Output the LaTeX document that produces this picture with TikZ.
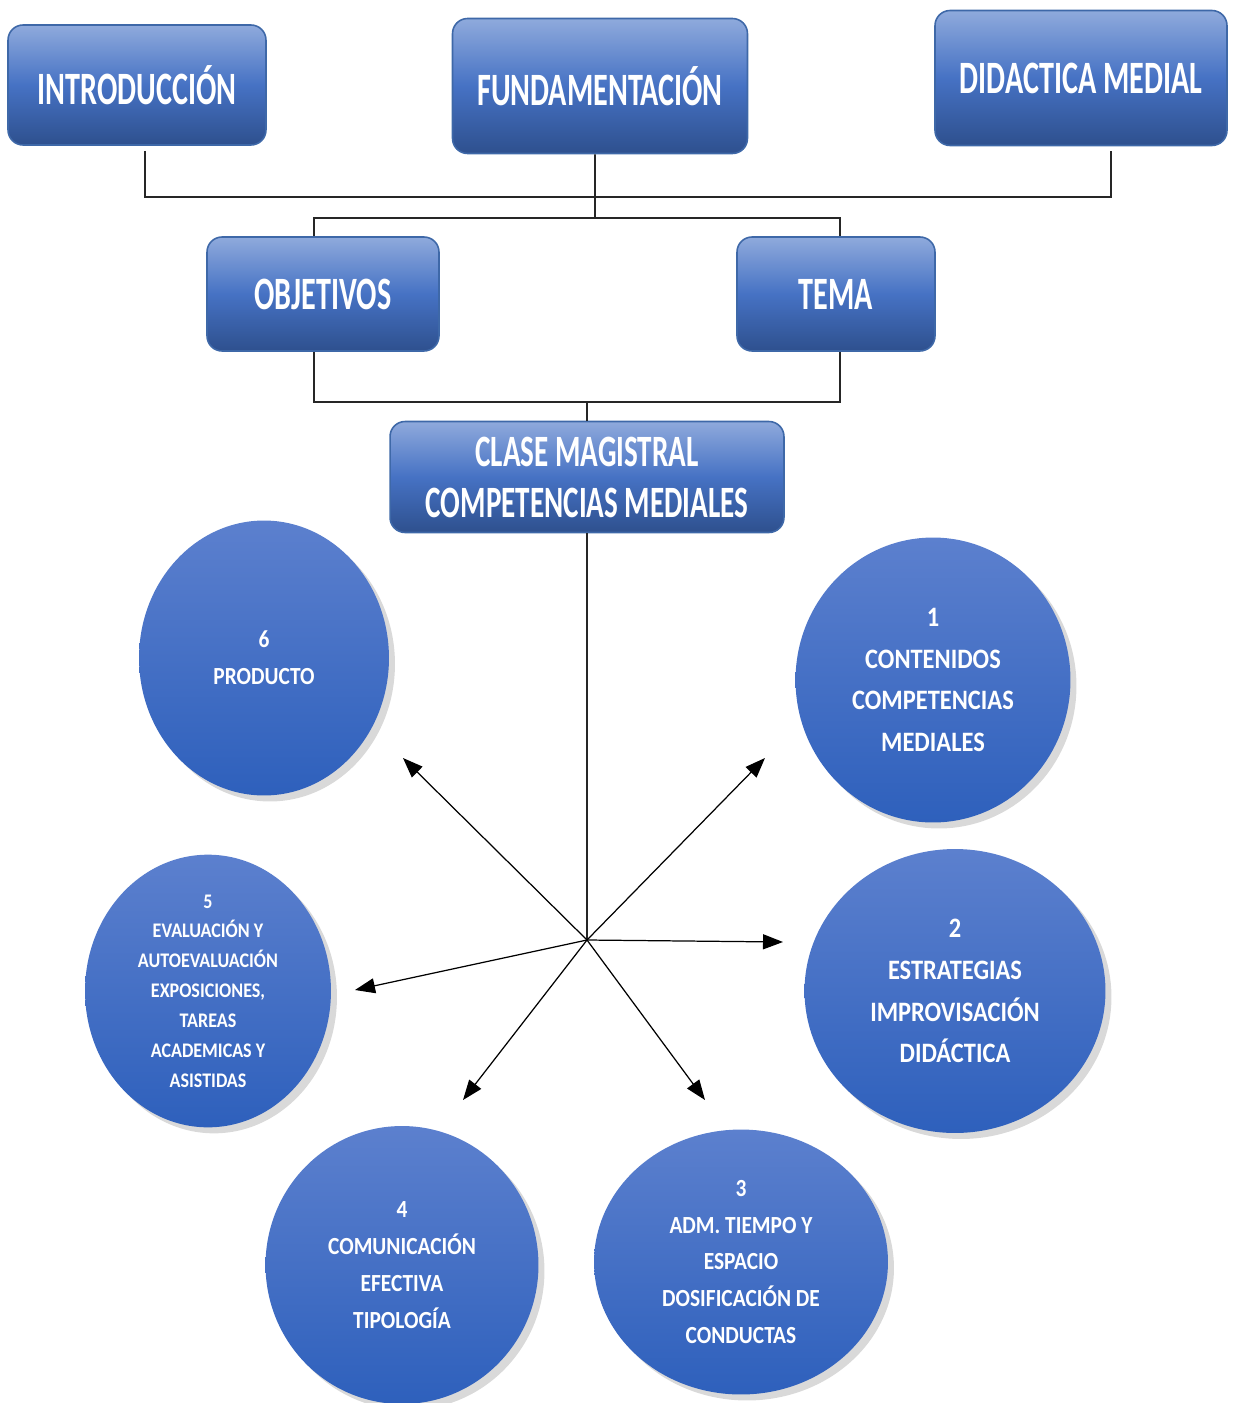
\documentclass[tikz,border=0pt]{standalone}
\usepackage{fontspec}
\newfontfamily\boxfont[FakeStretch=0.65]{Carlito}
\newfontfamily\discfont[FakeStretch=0.87]{Carlito}
\usepackage{tikz}
\usetikzlibrary{arrows.meta,shapes.geometric,shadows}
\definecolor{boxtop}{RGB}{143,170,220}
\definecolor{boxmid}{RGB}{70,114,196}
\definecolor{boxbot}{RGB}{46,80,142}
\definecolor{boxedge}{RGB}{62,104,168}
\definecolor{disctop}{RGB}{92,128,206}
\definecolor{discbot}{RGB}{46,96,188}
\tikzstyle{topic box} = [rectangle,rounded corners=0.3cm,draw=boxedge,line width=0.9pt,top color=boxtop,bottom color=boxbot,middle color=boxmid,text=white,align=center,font={\boxfont\bfseries\fontsize{26.4}{29}\selectfont}]
\tikzstyle{stage disc} = [ellipse,inner sep=0pt,top color=disctop,bottom color=discbot,drop shadow={shadow xshift=0.12cm,shadow yshift=-0.12cm,opacity=0.3},text=white,align=center]
\tikzstyle{big text} = [font={\discfont\bfseries\fontsize{16}{23.8}\selectfont}]
\tikzstyle{mid text} = [font={\discfont\bfseries\fontsize{14}{21}\selectfont}]
\tikzstyle{small text} = [font={\discfont\bfseries\fontsize{11.8}{17}\selectfont}]
\tikzstyle{link} = [line width=0.9pt,black!85]
\tikzstyle{spoke} = [line width=0.7pt,-{Triangle[length=0.4cm,width=0.3cm]}]

\begin{document}
\begin{tikzpicture}[x=0.02cm,y=-0.02cm]
    \useasboundingbox (0,0) rectangle (1235,1403);

    \node[topic box,minimum width=5.16cm,minimum height=2.4cm] (intro) at (137,85)  {INTRODUCCIÓN};
    \node[topic box,minimum width=5.9cm,minimum height=2.7cm]  (fund)  at (600,86)  {FUNDAMENTACIÓN};
    \node[topic box,minimum width=5.84cm,minimum height=2.7cm] (did)   at (1081,78) {DIDACTICA MEDIAL};
    \node[topic box,minimum width=4.64cm,minimum height=2.28cm] (obj)  at (323,294) {OBJETIVOS};
    \node[topic box,minimum width=3.96cm,minimum height=2.28cm] (tema) at (836,294) {TEMA};
    \node[topic box,minimum width=7.88cm,minimum height=2.22cm,font={\boxfont\bfseries\fontsize{25.5}{29}\selectfont}] (clase) at (587,477) {CLASE MAGISTRAL\\COMPETENCIAS MEDIALES};

    % buses between the boxes
    \coordinate (intro drop) at ([xshift=0.16cm,yshift=-0.1cm]intro.south);
    \coordinate (did drop)   at ([xshift=0.6cm,yshift=-0.1cm]did.south);
    \coordinate (top bus) at (595,197);
    \coordinate (mid bus) at (595,218);
    \coordinate (low bus) at (587,402);
    \draw[link] (intro drop) |- (top bus) -| (did drop);
    \draw[link] ([xshift=-0.1cm]fund.south) -- (mid bus);
    \draw[link] ([xshift=-0.18cm]obj.north) |- (mid bus) -| ([xshift=0.08cm]tema.north);
    \draw[link] ([xshift=-0.18cm]obj.south) |- (low bus) -| ([xshift=0.08cm]tema.south);
    \draw[link] (low bus) -- (clase.north);

    \node[stage disc,big text,minimum width=5.5cm,minimum height=5.7cm]   (contenidos)  at (933,680)  {1\\CONTENIDOS\\COMPETENCIAS\\MEDIALES};
    \node[stage disc,big text,minimum width=6.02cm,minimum height=5.68cm] (estrategias) at (955,991)  {2\\ESTRATEGIAS\\IMPROVISACIÓN\\DIDÁCTICA};
    \node[stage disc,mid text,minimum width=5.88cm,minimum height=5.3cm]  (admtiempo)   at (741,1262) {3\\ADM. TIEMPO Y\\ESPACIO\\DOSIFICACIÓN DE\\CONDUCTAS};
    \node[stage disc,mid text,minimum width=5.46cm,minimum height=5.56cm] (comunicacion) at (402,1265) {4\\COMUNICACIÓN\\EFECTIVA\\TIPOLOGÍA};
    \node[stage disc,small text,minimum width=4.92cm,minimum height=5.34cm] (evaluacion) at (208,991) {5\\EVALUACIÓN Y\\AUTOEVALUACIÓN\\EXPOSICIONES,\\TAREAS\\ACADEMICAS Y\\ASISTIDAS};
    \node[stage disc,mid text,minimum width=5cm,minimum height=5.5cm]     (producto)    at (264,658)  {6\\PRODUCTO};

    % spokes from the hub
    \coordinate (hub) at (587,940);
    \draw[link] (clase.south) -- (hub);
    \coordinate (to contenidos)   at (765,758);
    \coordinate (to estrategias)  at (783,942);
    \coordinate (to admtiempo)    at (705,1100);
    \coordinate (to comunicacion) at (463,1100);
    \coordinate (to evaluacion)   at (355,990);
    \coordinate (to producto)     at (403,758);
    \draw[spoke] (hub) -- (to contenidos);   \draw[spoke] (hub) -- (to estrategias);
    \draw[spoke] (hub) -- (to admtiempo);    \draw[spoke] (hub) -- (to comunicacion);
    \draw[spoke] (hub) -- (to evaluacion);   \draw[spoke] (hub) -- (to producto);
\end{tikzpicture}
\end{document}
